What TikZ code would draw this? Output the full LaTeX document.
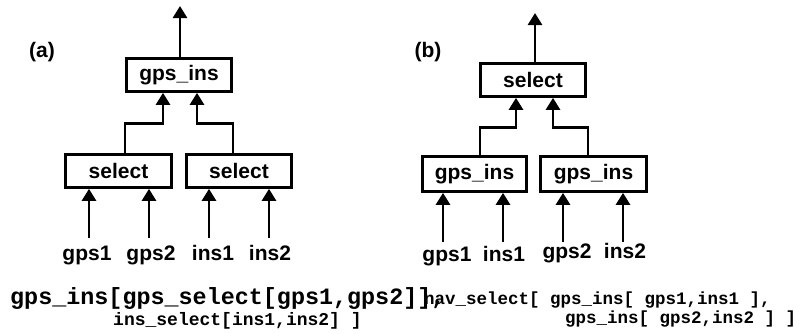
\documentclass[tikz,border=0pt]{standalone}
\usepackage{fontspec}
\setmainfont{Liberation Sans}
\setmonofont{Liberation Mono}
\usetikzlibrary{arrows.meta,calc}
\begin{document}
\begin{tikzpicture}[x=1pt,y=-1pt,
  box/.style={draw,line width=2.7pt,inner sep=0pt,font=\fontsize{21}{21}\selectfont\bfseries},
  arr/.style={line width=2.7pt,-{Triangle[width=14pt,length=12pt]}},
  lbl/.style={inner sep=0pt,anchor=base,font=\fontsize{21}{21}\selectfont\bfseries},
  code/.style={inner sep=0pt,anchor=base west,font=\ttfamily\bfseries}]
\useasboundingbox (0,0) rectangle (805,333);
% ---------- (a)
\node[lbl] (la) at (42,57) {(a)};
\node[box,minimum width=105pt,minimum height=33pt] (aT) at (179,75) {gps\_ins};
\node[box,minimum width=106pt,minimum height=33pt] (aL) at (118.5,171) {select};
\node[box,minimum width=105pt,minimum height=33pt] (aR) at (239,171) {select};
\coordinate (outA) at (180,6);
\draw[arr] (aT.north -| outA) -- (outA);
\draw[arr] ($(aL.north)+(6.5,0)$) -- ++(0,-30) -| ($(aT.south)+(-16,0)$);
\draw[arr] ($(aR.north)+(-6,0)$) -- ++(0,-30) -| ($(aT.south)+(18,0)$);
\node[lbl] (ag1) at (87,260) {gps1};
\node[lbl] (ag2) at (151,260) {gps2};
\node[lbl] (ai1) at (213,260) {ins1};
\node[lbl] (ai2) at (270,260) {ins2};
\coordinate (sa1) at (89,238);
\coordinate (sa2) at (149,238);
\coordinate (sa3) at (209,238);
\coordinate (sa4) at (269,238);
\draw[arr] (sa1) -- (sa1 |- aL.south);
\draw[arr] (sa2) -- (sa2 |- aL.south);
\draw[arr] (sa3) -- (sa3 |- aR.south);
\draw[arr] (sa4) -- (sa4 |- aR.south);
% ---------- (b)
\node[lbl] (lb) at (428,57) {(b)};
\node[box,minimum width=105pt,minimum height=33pt] (bT) at (533,80) {select};
\node[box,minimum width=104pt,minimum height=35pt] (bL) at (474.5,174) {gps\_ins};
\node[box,minimum width=106pt,minimum height=35pt] (bR) at (593.5,174) {gps\_ins};
\coordinate (outB) at (535,13);
\draw[arr] (bT.north -| outB) -- (outB);
\draw[arr] ($(bL.north)+(5.5,0)$) -- ++(0,-28) -| ($(bT.south)+(-17,0)$);
\draw[arr] ($(bR.north)+(-5.5,0)$) -- ++(0,-28) -| ($(bT.south)+(20,0)$);
\node[lbl] (bg1) at (447,261) {gps1};
\node[lbl] (bi1) at (504,261) {ins1};
\node[lbl] (bg2) at (567,258) {gps2};
\node[lbl] (bi2) at (625,258) {ins2};
\coordinate (sb1) at (443,242);
\coordinate (sb2) at (503,242);
\coordinate (sb3) at (563,242);
\coordinate (sb4) at (623,242);
\draw[arr] (sb1) -- (sb1 |- bL.south);
\draw[arr] (sb2) -- (sb2 |- bL.south);
\draw[arr] (sb3) -- (sb3 |- bR.south);
\draw[arr] (sb4) -- (sb4 |- bR.south);
% ---------- code
\node[code,font=\ttfamily\bfseries\fontsize{23.4}{24}\selectfont] (ca1) at (10,304) {gps\_ins[gps\_select[gps1,gps2]],};
\node[code,font=\ttfamily\bfseries\fontsize{18}{18}\selectfont] (ca2) at (113,325) {ins\_select[ins1,ins2] ]};
\node[code,font=\ttfamily\bfseries\fontsize{17.5}{18}\selectfont] (cb1) at (424,304) {nav\_select[ gps\_ins[ gps1,ins1 ],};
\node[code,font=\ttfamily\bfseries\fontsize{17.5}{18}\selectfont] (cb2) at (565,323) {gps\_ins[ gps2,ins2 ] ]};
\end{tikzpicture}
\end{document}
